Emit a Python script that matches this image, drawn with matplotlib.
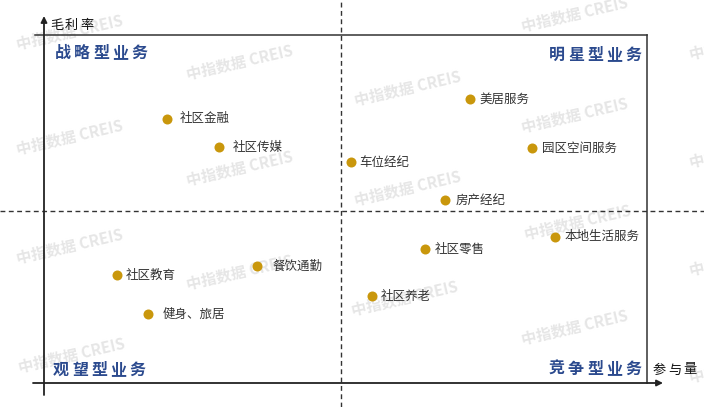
import matplotlib
matplotlib.use("Agg")
import matplotlib.pyplot as plt

plt.rcParams['font.family'] = ['Noto Sans CJK SC', 'DejaVu Sans']

# ---- data (participation %, gross margin %) ----
names = ['社区金融', '社区传媒', '车位经纪', '美居服务', '园区空间服务', '房产经纪',
         '本地生活服务', '社区零售', '餐饮通勤', '社区教育', '健身、旅居', '社区养老']
participation = [20.4, 29.0, 50.9, 70.6, 80.9, 66.5, 84.7, 63.2, 35.3, 12.1, 17.2, 54.4]
margin = [75.9, 67.8, 63.5, 81.6, 67.5, 52.6, 42.0, 38.5, 33.6, 31.0, 19.8, 25.0]
label_gap = [9, 10, 6, 7, 7, 8, 7, 7, 11, 6, 11, 6]  # points
x_mid = 49.25
y_mid = 49.4
quadrants = ['战略型业务', '明星型业务', '观望型业务', '竞争型业务']
x_title = '参与量'
y_title = '毛利率'

W, H = 704, 407
fig = plt.figure(figsize=(W / 100, H / 100), dpi=100)
fig.patch.set_facecolor('white')

# watermarks
wm_pos = [(70, 32), (70, 137), (70, 246), (72, 355),
          (240, 62), (240, 168), (240, 272),
          (408, 88), (408, 188), (405, 298),
          (575, 14), (575, 115), (578, 222), (575, 327),
          (743, 42), (743, 150), (743, 258), (743, 365)]
for (px, py) in wm_pos:
    fig.text(px / W, 1 - py / H, '中指数据 CREIS', fontsize=11, fontweight='bold',
             color='#e6e6e6', rotation=13, ha='center', va='center',
             rotation_mode='anchor', zorder=0)

L, R, T, B = 44, 647, 35, 383
ax = fig.add_axes([L / W, (H - B) / H, (R - L) / W, (B - T) / H])
ax.set_zorder(2)
ax.set_xlim(0, 100)
ax.set_ylim(0, 100)
ax.axis('off')
ax.patch.set_alpha(0)

def fx(px):
    return (px - L) / (R - L)

def fy(py):
    return (B - py) / (B - T)

lc = '#222222'
# box lines
ax.plot([fx(35), 1], [1, 1], transform=ax.transAxes, color='#333333', lw=1.1, clip_on=False)
ax.plot([1, 1], [0, 1], transform=ax.transAxes, color='#333333', lw=1.1, clip_on=False)
# axis arrows
ax.annotate('', xy=(0, fy(16)), xytext=(0, fy(395)), xycoords='axes fraction',
            arrowprops=dict(arrowstyle='-|>', lw=1.3, color=lc, mutation_scale=9,
                            shrinkA=0, shrinkB=0), annotation_clip=False)
ax.annotate('', xy=(fx(663), 0), xytext=(fx(33), 0), xycoords='axes fraction',
            arrowprops=dict(arrowstyle='-|>', lw=1.3, color=lc, mutation_scale=9,
                            shrinkA=0, shrinkB=0), annotation_clip=False)

# dashed dividers
ax.plot([x_mid, x_mid], [fy(H) * 100, fy(0) * 100], color='#333333', lw=1.0,
        ls=(0, (3.5, 2.5)), clip_on=False)
ax.plot([fx(0) * 100, fx(W) * 100], [y_mid, y_mid], color='#333333', lw=1.0,
        ls=(0, (3.5, 2.5)), clip_on=False)

# points
ax.scatter(participation, margin, s=52, color='#C9970C', zorder=5, clip_on=False,
           linewidths=0)
for n, x, y, g in zip(names, participation, margin, label_gap):
    ax.annotate(n, xy=(x, y), xytext=(g, 0), textcoords='offset points',
                ha='left', va='center', fontsize=9, color='#333333', zorder=6)

def spaced(s, x, y, pitch, ha, **kw):
    n = len(s)
    for i, ch in enumerate(s):
        if ha == 'left':
            off = i * pitch
            a = 'left'
        else:
            off = -(n - 1 - i) * pitch
            a = 'right'
        ax.annotate(ch, xy=(x, y), xycoords='axes fraction', xytext=(off, 0),
                    textcoords='offset points', ha=a, va='center',
                    annotation_clip=False, **kw)

qkw = dict(fontsize=11.5, color='#2B4A8E', fontweight='bold')
spaced(quadrants[0], fx(55), fy(53), 13.7, 'left', **qkw)
spaced(quadrants[1], fx(641), fy(55), 13.7, 'right', **qkw)
spaced(quadrants[2], fx(53), fy(370), 13.7, 'left', **qkw)
spaced(quadrants[3], fx(641), fy(369), 13.7, 'right', **qkw)

tkw = dict(fontsize=9.5, color='#111111', fontweight='medium')
spaced(y_title, fx(50), fy(25), 10.8, 'left', **tkw)
spaced(x_title, fx(653), fy(370), 10.8, 'left', **tkw)

fig.savefig('out.png', dpi=100, facecolor='white')
